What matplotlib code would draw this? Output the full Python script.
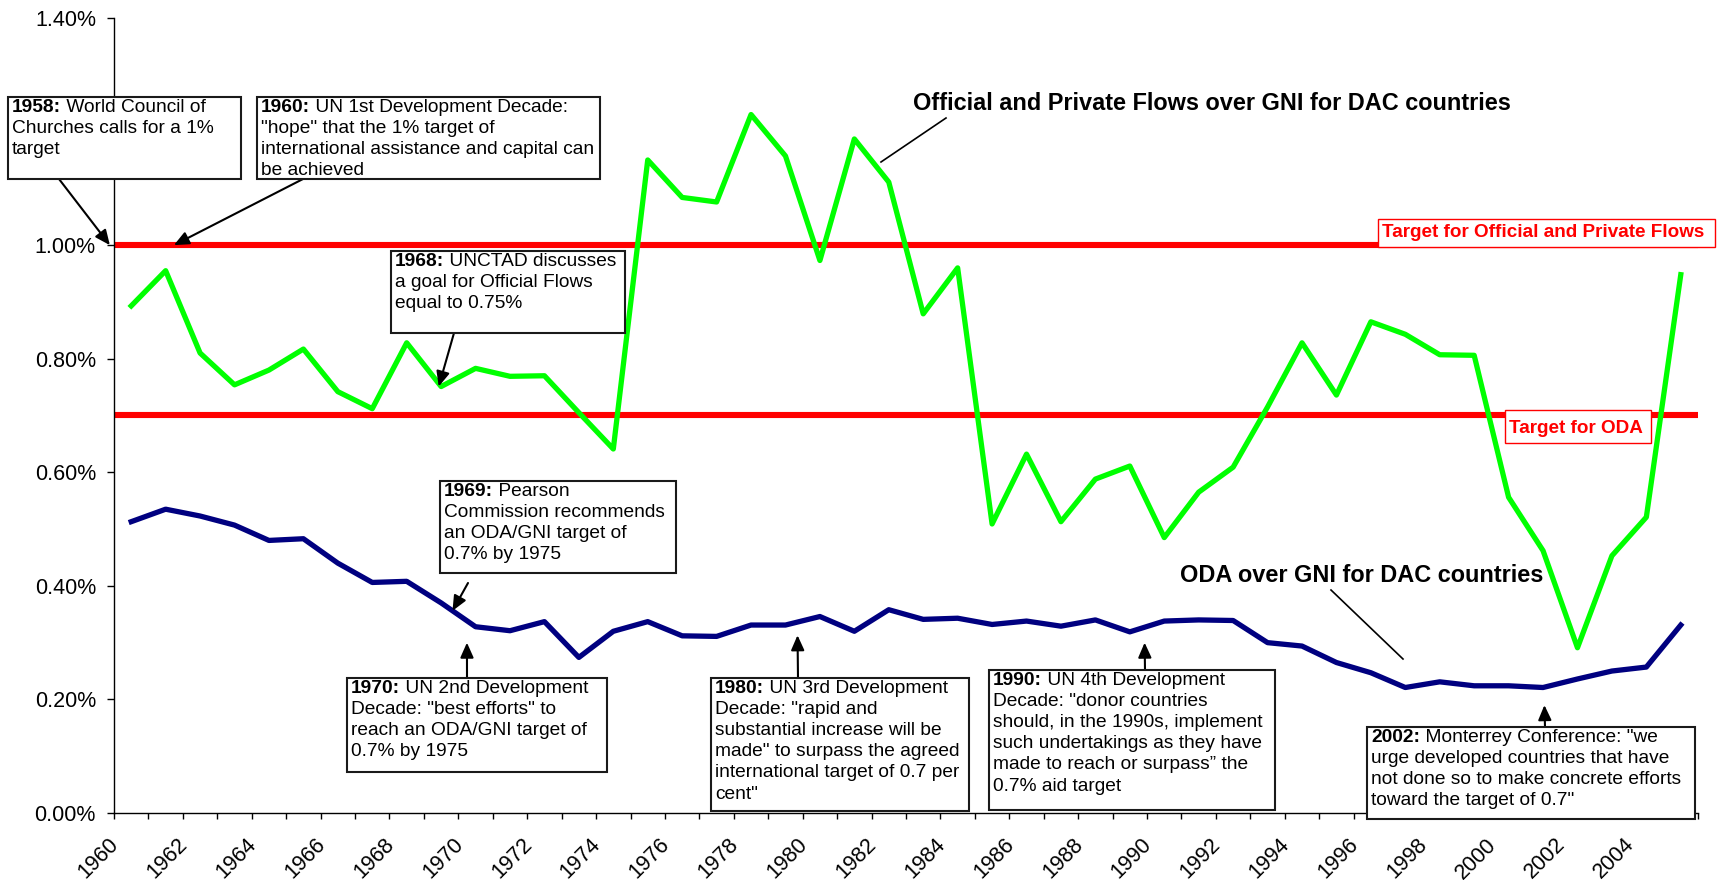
import numpy as np
import matplotlib
matplotlib.use('Agg')
import matplotlib.pyplot as plt
from matplotlib.patches import Rectangle
from matplotlib.transforms import blended_transform_factory, ScaledTranslation

plt.rcParams['font.family'] = ['Liberation Sans', 'DejaVu Sans']

# ---------------- data ----------------
years = list(range(1960, 2006))
flows_gni = [0.893, 0.955, 0.810, 0.754, 0.780, 0.817, 0.742, 0.712, 0.828, 0.751,
             0.783, 0.769, 0.770, 0.705, 0.641, 1.150, 1.084, 1.076, 1.230, 1.157,
             0.973, 1.187, 1.111, 0.879, 0.960, 0.509, 0.632, 0.513, 0.588, 0.611,
             0.485, 0.565, 0.609, 0.715, 0.828, 0.736, 0.865, 0.843, 0.807, 0.806,
             0.556, 0.462, 0.291, 0.453, 0.521, 0.948]
oda_gni = [0.513, 0.535, 0.523, 0.507, 0.480, 0.483, 0.440, 0.406, 0.408, 0.370,
           0.328, 0.321, 0.337, 0.274, 0.320, 0.337, 0.312, 0.311, 0.331, 0.331,
           0.346, 0.320, 0.358, 0.341, 0.343, 0.332, 0.338, 0.329, 0.340, 0.319,
           0.338, 0.340, 0.339, 0.300, 0.294, 0.265, 0.247, 0.221, 0.231, 0.224,
           0.224, 0.221, 0.236, 0.250, 0.257, 0.331]
target_values = [1.00, 0.70]
target_labels = ['Target for Official and Private Flows', 'Target for ODA']
tick_years = [str(y) for y in range(1960, 2005, 2)]
y_ticks = [0.0, 0.2, 0.4, 0.6, 0.8, 1.0, 1.2, 1.4]
# the 1.20% label is hidden behind the 1958 note in the original
y_tick_labels = ['0.00%', '0.20%', '0.40%', '0.60%', '0.80%', '1.00%', '', '1.40%']

series_labels = ['Official and Private Flows over GNI for DAC countries',
                 'ODA over GNI for DAC countries']

notes = [
    ('1958:', [' World Council of', 'Churches calls for a 1%', 'target']),
    ('1960:', [' UN 1st Development Decade:', '"hope" that the 1% target of',
               'international assistance and capital can', 'be achieved']),
    ('1968:', [' UNCTAD discusses', 'a goal for Official Flows', 'equal to 0.75%']),
    ('1969:', [' Pearson', 'Commission recommends', 'an ODA/GNI target of', '0.7% by 1975']),
    ('1970:', [' UN 2nd Development', 'Decade: "best efforts" to',
               'reach an ODA/GNI target of', '0.7% by 1975']),
    ('1980:', [' UN 3rd Development', 'Decade: "rapid and', 'substantial increase will be',
               'made" to surpass the agreed', 'international target of 0.7 per', 'cent"']),
    ('1990:', [' UN 4th Development', 'Decade: "donor countries',
               'should, in the 1990s, implement', 'such undertakings as they have',
               'made to reach or surpass\u201d the', '0.7% aid target']),
    ('2002:', [' Monterrey Conference: "we', 'urge developed countries that have',
               'not done so to make concrete efforts', 'toward the target of 0.7"']),
]

# ---------------- layout (pixels, top-left origin) ----------------
W, H = 1721, 880
DPI = 100
fig = plt.figure(figsize=(W / DPI, H / DPI), dpi=DPI)
fig.patch.set_facecolor('white')


def fx(px):
    return px / W


def fy(py):
    return 1 - py / H


AX_L, AX_R, AX_B, AX_T = 114, 1698, 813, 18
ax = fig.add_axes([fx(AX_L), fy(AX_B), (AX_R - AX_L) / W, (AX_B - AX_T) / H])
ax.set_facecolor('white')

xpos = np.arange(len(years))
n = len(years)

ax.hlines(target_values, -0.5, n - 0.5, colors='#FF0000', lw=4.4, zorder=1.5)
ax.plot(xpos, flows_gni, color='#00FF00', lw=3.8, zorder=2, solid_joinstyle='round')
ax.plot(xpos, oda_gni, color='#000080', lw=3.8, zorder=2, solid_joinstyle='round')

ax.set_xlim(-0.5, n - 0.5)
ax.set_ylim(0, 1.4)
for s in ['top', 'right']:
    ax.spines[s].set_visible(False)
for s in ['left', 'bottom']:
    ax.spines[s].set_linewidth(1.0)
    ax.spines[s].set_color('black')

ax.set_yticks(y_ticks)
ax.set_yticklabels(y_tick_labels)
ax.tick_params(axis='y', length=5, width=1, pad=8, labelsize=15.5, direction='out')

ax.set_xticks(np.arange(-0.5, n, 1))
ax.set_xticklabels([])
ax.tick_params(axis='x', length=4.3, width=1, direction='out')

blend = blended_transform_factory(ax.transData, ax.transAxes)
off = ScaledTranslation(-23 / DPI, -21 / DPI, fig.dpi_scale_trans)
for i, lab in enumerate(tick_years):
    ax.text(2 * i, 0, lab, transform=blend + off, rotation=45, ha='right', va='top',
            rotation_mode='anchor', fontsize=15.5, clip_on=False)

renderer = fig.canvas.get_renderer()

FS = 13.8
PITCH = 21.1
FIRST = 15


def note_box(x0, y0, x1, y1, bold, lines):
    rect = Rectangle((fx(x0), fy(y1)), (x1 - x0) / W, (y1 - y0) / H,
                     transform=fig.transFigure, facecolor='white',
                     edgecolor='#1a1a1a', lw=1.5, zorder=5)
    fig.add_artist(rect)
    tx = x0 + 4
    base = y0 + FIRST
    t = fig.text(fx(tx), fy(base), bold, fontsize=FS, weight='bold',
                 ha='left', va='baseline', zorder=6)
    bb = t.get_window_extent(renderer=renderer)
    fig.text(bb.x1 / W, fy(base), lines[0], fontsize=FS, ha='left',
             va='baseline', zorder=6)
    for k, ln in enumerate(lines[1:], start=1):
        fig.text(fx(tx), fy(base + k * PITCH), ln, fontsize=FS, ha='left',
                 va='baseline', zorder=6)


box_geom = [
    (8, 97, 241, 179),
    (257, 97, 600, 179),
    (391, 251, 625, 333),
    (440, 481, 676, 573),
    (347, 678, 607, 772),
    (711, 678, 969, 811),
    (989, 670, 1275, 810),
    (1367, 727, 1695, 819),
]
for (b, lines), g in zip(notes, box_geom):
    note_box(*g, b, lines)

# arrows: tip in data coords, tail in figure pixels
arrow_specs = [
    ((-0.62, 1.00), (59, 179)),
    ((1.24, 1.00), (303, 179)),
    ((8.93, 0.751), (454, 333)),
    ((9.33, 0.356), (468, 583)),
    ((9.75, 0.300), (467, 678)),
    ((19.35, 0.313), (798, 678)),
    ((29.43, 0.300), (1145, 670)),
    ((41.04, 0.190), (1545, 727)),
]
for tip, tail in arrow_specs:
    ax.annotate('', xy=tip, xycoords='data', xytext=(tail[0], H - tail[1]),
                textcoords='figure pixels', annotation_clip=False,
                arrowprops=dict(arrowstyle='-|>,head_length=0.9,head_width=0.4',
                                color='black', lw=1.5, shrinkA=0, shrinkB=0),
                zorder=7)

# pointer lines for series labels
for (x0, y0), (x1, y1) in [((946, 118), (881, 162)), ((1331, 590), (1403, 659))]:
    fig.add_artist(plt.Line2D([fx(x0), fx(x1)], [fy(y0), fy(y1)],
                              transform=fig.transFigure, color='black', lw=1.2))

fig.text(fx(913), fy(110), series_labels[0], fontsize=16.9, weight='bold',
         ha='left', va='baseline')
fig.text(fx(1180), fy(582), series_labels[1], fontsize=16.9, weight='bold',
         ha='left', va='baseline')

# target labels in red boxes
for lab, (x0, y0, x1, y1), tx, base in zip(
        target_labels,
        [(1378, 219, 1715, 247), (1505, 410, 1651, 443)],
        [1382, 1509], [237, 433]):
    fig.add_artist(Rectangle((fx(x0), fy(y1)), (x1 - x0) / W, (y1 - y0) / H,
                             transform=fig.transFigure, facecolor='white',
                             edgecolor='#FF0000', lw=1.0, zorder=4))
    fig.text(fx(tx), fy(base), lab, fontsize=13.6, weight='bold', color='#FF0000',
             ha='left', va='baseline', zorder=6)

fig.savefig('out.png', dpi=DPI, facecolor='white')
